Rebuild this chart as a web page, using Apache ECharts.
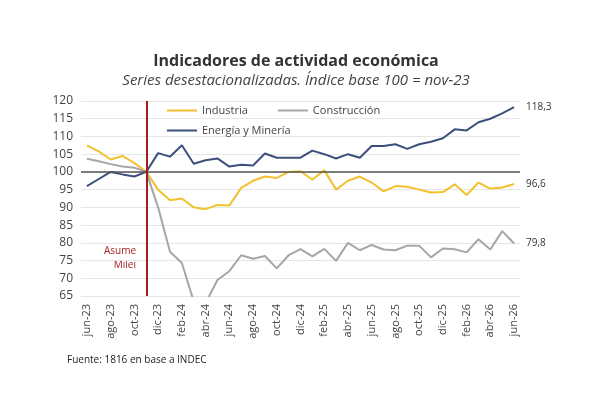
<!DOCTYPE html><html><head><meta charset="utf-8">
<script src="https://cdn.jsdelivr.net/npm/echarts@6/dist/echarts.min.js"></script>
<style>html,body{margin:0;background:#fff}#c{width:592px;height:416px}</style></head><body><div id="c"></div>
<script>
const categories=['jun-23','jul-23','ago-23','sep-23','oct-23','nov-23','dic-23','ene-24','feb-24','mar-24','abr-24','may-24','jun-24','jul-24','ago-24','sep-24','oct-24','nov-24','dic-24','ene-25','feb-25','mar-25','abr-25','may-25','jun-25','jul-25','ago-25','sep-25','oct-25','nov-25','dic-25','ene-26','feb-26','mar-26','abr-26','may-26','jun-26'];
const industria=[107.5,105.8,103.5,104.5,102.5,100,95,92,92.5,90,89.5,90.7,90.5,95.5,97.5,98.7,98.3,100,100.2,97.8,100.5,95,97.5,98.7,97,94.5,96,95.8,95,94.2,94.3,96.5,93.5,97,95.3,95.6,96.6];
const construccion=[103.7,103,102.2,101.5,101.2,100,90,77.5,74.3,63.5,63,69.5,72,76.5,75.5,76.3,72.8,76.5,78.2,76.2,78.3,74.9,80,77.9,79.4,78.1,77.9,79.2,79.2,75.9,78.4,78.2,77.3,81,78.1,83.3,79.8];
const energia=[96,98,100,99.3,98.7,100,105.3,104.3,107.5,102.3,103.3,103.8,101.5,102,101.8,105.2,104,104,104,106,105,103.8,105,104,107.3,107.3,107.8,106.5,107.8,108.5,109.5,112,111.7,114,115,116.5,118.3];
const F='"Open Sans","Liberation Sans",sans-serif';
const fmt=p=>String(p.value).replace('.',',');
function s(name,data,color,extra){return Object.assign({name,type:'line',data,symbol:'none',lineStyle:{width:2,color},itemStyle:{color},
 endLabel:{show:true,formatter:fmt,color:'#333',fontSize:10,fontFamily:F,distance:12}},extra||{});}
const chart=echarts.init(document.getElementById('c'));
chart.setOption({animation:false,
 title:{text:'Indicadores de actividad económica',subtext:'Series desestacionalizadas. Índice base 100 = nov-23',left:'center',top:48,itemGap:4,
  textStyle:{fontFamily:F,fontSize:16,fontWeight:'bold',color:'#333'},subtextStyle:{fontFamily:F,fontSize:15,fontStyle:'italic',color:'#444'}},
 legend:[{data:['Industria','Construcción'],left:162,top:100,itemWidth:30,itemGap:30,icon:'rect',itemHeight:2,textStyle:{fontFamily:F,fontSize:11,color:'#444'}},
  {data:['Energía y Minería'],left:162,top:120,itemWidth:30,icon:'rect',itemHeight:2,textStyle:{fontFamily:F,fontSize:11,color:'#444'}}],
 grid:{left:81,right:72,top:101,bottom:120},
 xAxis:{type:'category',data:categories,boundaryGap:true,axisTick:{show:false},axisLine:{show:false},
  axisLabel:{interval:1,rotate:90,fontFamily:F,fontSize:11,color:'#444'}},
 yAxis:{type:'value',min:65,max:120,interval:5,axisLabel:{fontFamily:F,fontSize:12,color:'#444'},splitLine:{lineStyle:{color:'#e6e6e6'}}},
 series:[s('Industria',industria,'#f2c12e',{markLine:{silent:true,symbol:'none',label:{show:false},data:[{yAxis:100,lineStyle:{color:'#555',width:1.5,type:'solid'}},{xAxis:5,lineStyle:{color:'#a51c1c',width:2,type:'solid'}}]}}),
  s('Construcción',construccion,'#a6a6a6'),
  s('Energía y Minería',energia,'#3d4f7c')],
 graphic:[{type:'text',x:136,y:244,style:{text:'Asume\nMilei',fill:'#a51c1c',font:'10px '+F,align:'right',lineHeight:14}},
  {type:'text',x:67,y:355,style:{text:'Fuente: 1816 en base a INDEC',fill:'#222',font:'10px '+F}}]
});
</script></body></html>
